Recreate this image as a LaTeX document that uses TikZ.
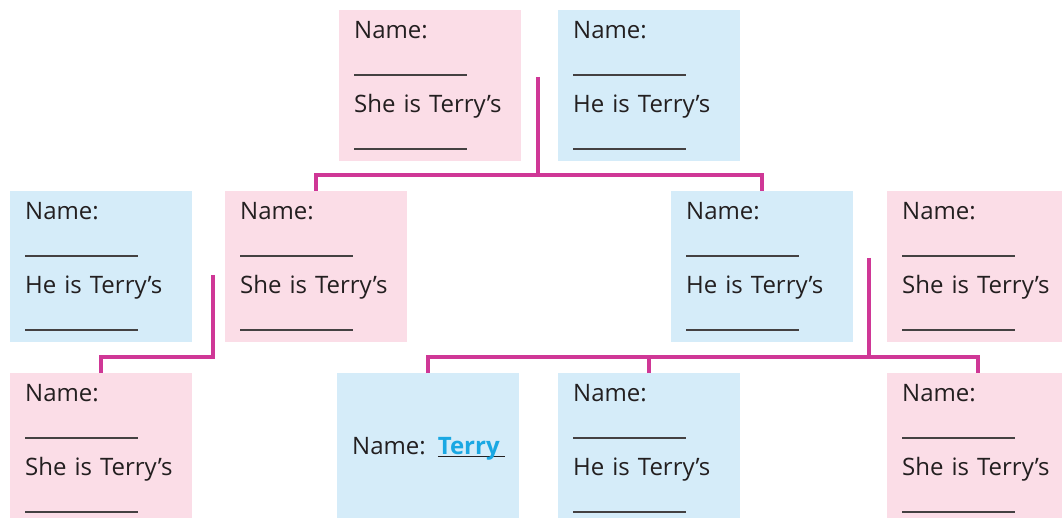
\documentclass[tikz,border=0pt]{standalone}
\usepackage{fontspec}
\setmainfont{Open Sans}
\usepackage{xcolor}
\usetikzlibrary{positioning,calc}
\definecolor{pinkcard}{HTML}{FBDDE7}
\definecolor{bluecard}{HTML}{D5ECF9}
\definecolor{treeline}{HTML}{CF3796}
\definecolor{inkgrey}{HTML}{231F20}
\definecolor{terryblue}{HTML}{1AA8E3}
\newcommand{\blankline}{{\color{inkgrey!85}\rule{113pt}{1.3pt}}}
\newcommand{\card}[1]{Name:\\\blankline\\#1 is Terry’s\\\blankline}
\newcommand{\terryname}{\makebox[0pt][l]{\rule[-2.5pt]{67pt}{1.3pt}}{\color{terryblue}\bfseries Terry}}

\begin{document}
\begin{tikzpicture}[x=1pt, y=-1pt,
    card/.style={rectangle, anchor=north west, minimum width=182pt, minimum height=151pt,
      text width=152pt, inner xsep=15pt, inner ysep=0pt, align=left,
      font=\fontsize{24}{37}\selectfont, text=inkgrey},
    she/.style={card, fill=pinkcard},
    he/.style={card, fill=bluecard},
    link/.style={draw=treeline, line width=4pt}]
    \useasboundingbox (0,0) rectangle (1062,518);
    \clip (0,0) rectangle (1062,518);

    % Grandparents
    \node[she] (gran) at (339,10) {\card{She}};
    \node[he] (grandad) at (558,10) {\card{He}};

    % Parents, uncle and aunt
    \node[he] (uncle) at (10,191) {\card{He}};
    \node[she] (mum) at (225,191) {\card{She}};
    \node[he] (dad) at (671,191) {\card{He}};
    \node[she] (aunt) at (887,191) {\card{She}};

    % Children
    \node[she] (cousin) at (10,373) {\card{She}};
    \node[he] (terry) at (337,373) {Name: \terryname};
    \node[he] (brother) at (558,373) {\card{He}};
    \node[she] (sister) at (887,373) {\card{She}};

    % Tree lines
    \coordinate (c1) at (537.5,77);
    \coordinate (j1) at (537.5,175);
    \draw[link] (c1) -- (j1);
    \draw[link] (mum.north) |- (j1) -| (dad.north);

    \coordinate (c2) at (213,275);
    \coordinate (j2) at (213,357);
    \draw[link] (c2) -- (j2) -| (cousin.north);

    \coordinate (c3) at (869,258);
    \coordinate (j3) at (869,357);
    \draw[link] (c3) -- (j3);
    \draw[link] (terry.north) |- (j3) -| (sister.north);
    \draw[link] (brother.north) -- (brother.north |- j3);
\end{tikzpicture}
\end{document}
